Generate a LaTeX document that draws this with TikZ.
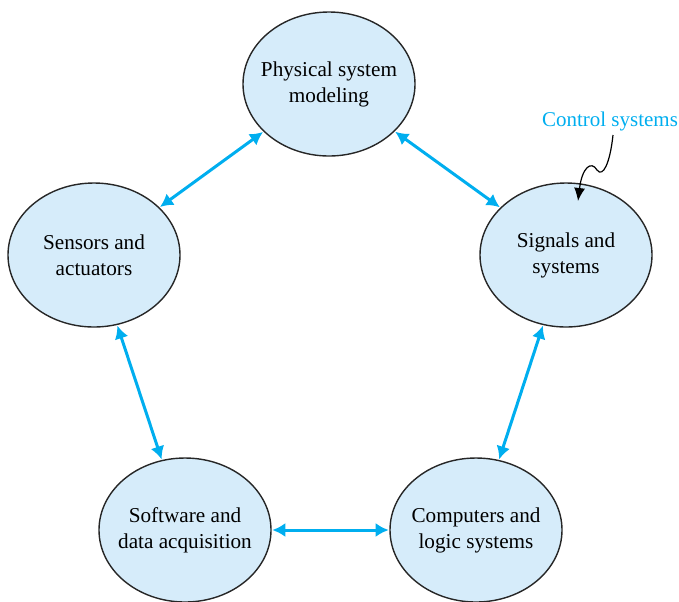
\documentclass[tikz,border=0pt]{standalone}
\usepackage{fontspec}
\setmainfont{Liberation Serif}
\usetikzlibrary{shapes.geometric,arrows.meta}
\definecolor{linkblue}{RGB}{0,174,239}
\definecolor{cellfill}{RGB}{214,236,250}
\begin{document}
\begin{tikzpicture}[x=0.5pt,y=-0.5pt,
  topic/.style={ellipse,draw=black!85,line width=0.7pt,fill=cellfill,
    minimum width=86pt,minimum height=72pt,inner xsep=-16pt,inner ysep=0pt,align=center,
    font=\fontsize{10.6}{13}\selectfont},
  link/.style={linkblue,line width=1.5pt,{Latex[length=6.5pt,width=7pt]}-{Latex[length=6.5pt,width=7pt]},shorten <=0.3pt,shorten >=0.3pt}]

% fix the margins
\useasboundingbox (0,0) rectangle (679,601);

% the five topics
\node[topic] (phys) at (329,84) {Physical system\\modeling};
\node[topic] (sens) at (94,255) {Sensors and\\actuators};
\node[topic] (sig) at (566,255) {Signals and\\systems};
\node[topic] (soft) at (185,530) {Software and\\data acquisition};
\node[topic] (comp) at (476,530) {Computers and\\logic systems};

% links between topics
\draw[link] (phys) -- (sens);
\draw[link] (phys) -- (sig);
\draw[link] (sens) -- (soft);
\draw[link] (sig) -- (comp);
\draw[link] (soft) -- (comp);

% control systems label and wavy pointer
\node[text=linkblue,font=\fontsize{10.5}{13}\selectfont] (ctrl) at (610,121) {Control systems};
\coordinate (tip) at (578,201);
\draw[line width=0.6pt,-{Latex[length=6.5pt,width=5.5pt]}] (613,135) .. controls (610,163) and (603,178) .. (597,170)
  .. controls (591,160) and (582,168) .. (tip);

\end{tikzpicture}
\end{document}
